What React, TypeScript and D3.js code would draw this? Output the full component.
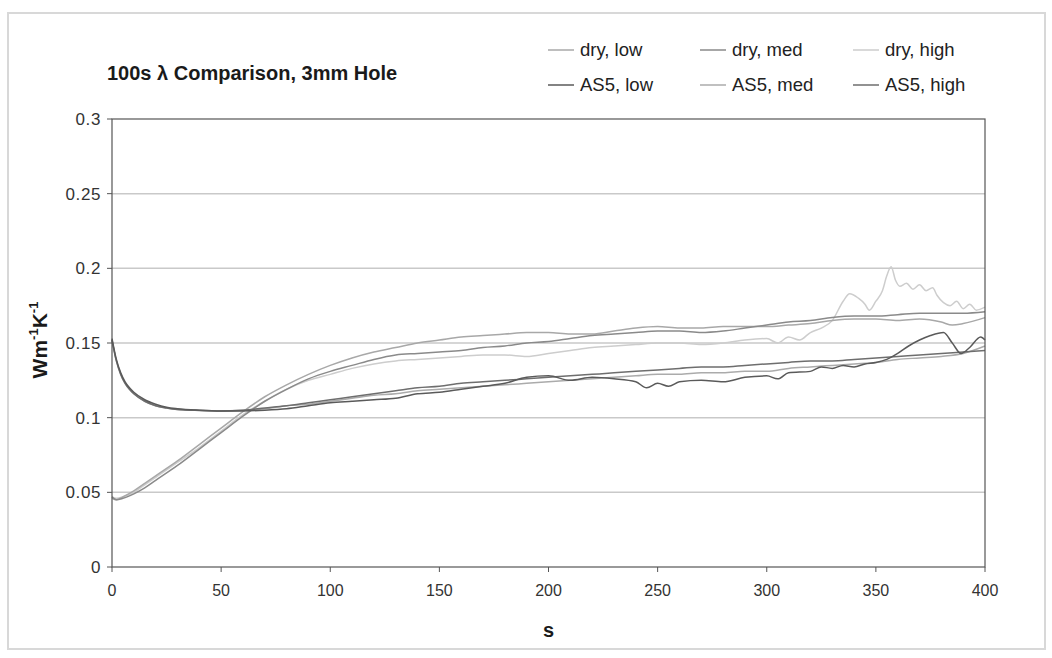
import React from 'react';
import * as d3 from 'd3';

// [s, W m^-1 K^-1]
type Pt = [number, number];

const xTicks = [0, 50, 100, 150, 200, 250, 300, 350, 400];
const yTicks = [0, 0.05, 0.1, 0.15, 0.2, 0.25, 0.3];
const yTickLabels = ['0', '0.05', '0.1', '0.15', '0.2', '0.25', '0.3'];

const seriesNames = ['dry, low', 'dry, med', 'dry, high', 'AS5, low', 'AS5, med', 'AS5, high'];
const seriesColors = ['#a8a8a8', '#8a8a8a', '#cdcdcd', '#5a5a5a', '#ababab', '#6e6e6e'];

const dryLow: Pt[] = [
  [0, 0.046], [2, 0.045], [5, 0.047], [10, 0.051], [15, 0.056], [20, 0.061], [30, 0.071], [40, 0.082],
  [50, 0.093], [60, 0.104], [70, 0.114], [80, 0.122], [90, 0.129], [100, 0.135], [110, 0.14], [120, 0.144],
  [130, 0.147], [140, 0.15], [150, 0.152], [160, 0.154], [170, 0.155], [180, 0.156], [190, 0.157], [200, 0.157],
  [210, 0.156], [220, 0.156], [230, 0.158], [240, 0.16], [250, 0.161], [260, 0.16], [270, 0.16], [280, 0.161],
  [290, 0.161], [300, 0.161], [310, 0.162], [320, 0.163], [330, 0.165], [340, 0.166], [350, 0.166], [360, 0.165],
  [370, 0.166], [380, 0.164], [385, 0.162], [390, 0.163], [400, 0.167],
];

const dryMed: Pt[] = [
  [0, 0.047], [2, 0.045], [5, 0.046], [10, 0.049], [15, 0.053], [20, 0.058], [30, 0.068], [40, 0.079],
  [50, 0.09], [60, 0.101], [70, 0.111], [80, 0.119], [90, 0.126], [100, 0.131], [110, 0.135], [120, 0.139],
  [130, 0.142], [140, 0.143], [150, 0.144], [160, 0.145], [170, 0.147], [180, 0.148], [190, 0.15], [200, 0.151],
  [210, 0.153], [220, 0.155], [230, 0.156], [240, 0.157], [250, 0.158], [260, 0.158], [270, 0.157], [280, 0.158],
  [290, 0.16], [300, 0.162], [310, 0.164], [320, 0.165], [330, 0.167], [340, 0.168], [350, 0.168], [360, 0.169],
  [370, 0.17], [380, 0.17], [390, 0.17], [400, 0.171],
];

const dryHigh: Pt[] = [
  [0, 0.047], [2, 0.046], [5, 0.047], [10, 0.05], [15, 0.055], [20, 0.06], [30, 0.07], [40, 0.08],
  [50, 0.091], [60, 0.102], [70, 0.111], [80, 0.119], [90, 0.125], [100, 0.129], [110, 0.133], [120, 0.136],
  [130, 0.138], [140, 0.139], [150, 0.14], [160, 0.141], [170, 0.142], [180, 0.142], [190, 0.141], [200, 0.143],
  [210, 0.145], [220, 0.147], [230, 0.148], [240, 0.149], [250, 0.15], [260, 0.15], [270, 0.149], [280, 0.15],
  [290, 0.152], [300, 0.153], [305, 0.15], [310, 0.154], [315, 0.152], [320, 0.157], [325, 0.16], [330, 0.165],
  [335, 0.178], [338, 0.183], [342, 0.18], [345, 0.176], [347, 0.172], [350, 0.178], [353, 0.185], [355, 0.195],
  [357, 0.201], [359, 0.192], [361, 0.188], [364, 0.19], [367, 0.186], [370, 0.189], [373, 0.185], [376, 0.187],
  [378, 0.182], [381, 0.177], [384, 0.175], [387, 0.178], [390, 0.173], [393, 0.176], [396, 0.172], [400, 0.174],
];

const as5Low: Pt[] = [
  [0, 0.153], [2, 0.139], [4, 0.13], [6, 0.124], [8, 0.12], [10, 0.117], [15, 0.112], [20, 0.109],
  [25, 0.107], [30, 0.106], [40, 0.105], [50, 0.1045], [60, 0.1045], [70, 0.105], [80, 0.106], [90, 0.108],
  [100, 0.11], [110, 0.111], [120, 0.112], [130, 0.113], [140, 0.116], [150, 0.117], [160, 0.119], [170, 0.121],
  [180, 0.123], [190, 0.127], [200, 0.128], [210, 0.125], [220, 0.127], [230, 0.126], [240, 0.124], [245, 0.12],
  [250, 0.123], [255, 0.121], [260, 0.124], [270, 0.125], [280, 0.124], [290, 0.127], [300, 0.128], [305, 0.126],
  [310, 0.13], [320, 0.131], [325, 0.134], [330, 0.133], [335, 0.135], [340, 0.134], [345, 0.136], [350, 0.137],
  [355, 0.139], [360, 0.143], [365, 0.148], [370, 0.152], [375, 0.155], [381, 0.157], [385, 0.15], [389, 0.143],
  [393, 0.147], [398, 0.154], [400, 0.152],
];

const as5Med: Pt[] = [
  [0, 0.152], [2, 0.138], [4, 0.129], [6, 0.123], [8, 0.119], [10, 0.116], [15, 0.111], [20, 0.108],
  [25, 0.1065], [30, 0.1055], [40, 0.105], [50, 0.1045], [60, 0.105], [70, 0.106], [80, 0.108], [90, 0.109],
  [100, 0.111], [110, 0.113], [120, 0.115], [130, 0.116], [140, 0.118], [150, 0.119], [160, 0.12], [170, 0.121],
  [180, 0.122], [190, 0.123], [200, 0.124], [210, 0.125], [220, 0.126], [230, 0.127], [240, 0.128], [250, 0.129],
  [260, 0.129], [270, 0.13], [280, 0.13], [290, 0.131], [300, 0.131], [310, 0.133], [320, 0.134], [330, 0.135],
  [340, 0.136], [350, 0.137], [360, 0.139], [370, 0.14], [380, 0.141], [390, 0.143], [400, 0.148],
];

const as5High: Pt[] = [
  [0, 0.152], [2, 0.138], [4, 0.129], [6, 0.123], [8, 0.119], [10, 0.116], [15, 0.111], [20, 0.108],
  [25, 0.1065], [30, 0.1055], [40, 0.1048], [50, 0.1045], [60, 0.105], [70, 0.1065], [80, 0.108], [90, 0.11],
  [100, 0.112], [110, 0.114], [120, 0.116], [130, 0.118], [140, 0.12], [150, 0.121], [160, 0.123], [170, 0.124],
  [180, 0.125], [190, 0.126], [200, 0.127], [210, 0.128], [220, 0.129], [230, 0.13], [240, 0.131], [250, 0.132],
  [260, 0.133], [270, 0.134], [280, 0.134], [290, 0.135], [300, 0.136], [310, 0.137], [320, 0.138], [330, 0.138],
  [340, 0.139], [350, 0.14], [360, 0.141], [370, 0.142], [380, 0.143], [390, 0.144], [400, 0.145],
];

const seriesData = [dryLow, dryMed, dryHigh, as5Low, as5Med, as5High];

const W = 1052;
const H = 658;
const plot = { left: 112, right: 985, top: 119, bottom: 567 };
const font = 'Arial, "Liberation Sans", sans-serif';

export default function App() {
  const x = d3.scaleLinear().domain([0, 400]).range([plot.left, plot.right]);
  const y = d3.scaleLinear().domain([0, 0.3]).range([plot.bottom, plot.top]);
  const line = d3
    .line<Pt>()
    .x((d) => x(d[0]))
    .y((d) => y(d[1]))
    .curve(d3.curveMonotoneX);

  // light ones first so the dark ones sit on top
  const order = [2, 4, 0, 1, 5, 3];
  const legendCols = [548, 700, 853];
  const legendRows = [50, 85];

  return (
    <svg
      width={W}
      height={H}
      style={{ position: 'absolute', left: 0, top: 0, background: '#fff' }}
      fontFamily={font}
    >
      <rect x={0} y={0} width={W} height={H} fill="#fff" />
      <rect x={8} y={13} width={1037} height={636} fill="none" stroke="#d8d8d8" strokeWidth={2} />

      <text x={107} y={80} fontSize={20} fontWeight="bold" fill="#1a1a1a">
        100s λ Comparison, 3mm Hole
      </text>

      {/* legend */}
      {seriesNames.map((name, i) => {
        const cx = legendCols[i % 3];
        const cy = legendRows[Math.floor(i / 3)];
        return (
          <g key={name}>
            <line x1={cx} x2={cx + 26} y1={cy} y2={cy} stroke={seriesColors[i]} strokeWidth={1.5} />
            <text x={cx + 32} y={cy + 6} fontSize={18.5} fill="#222">
              {name}
            </text>
          </g>
        );
      })}

      {/* gridlines */}
      {yTicks.slice(1, -1).map((t) => (
        <line key={t} x1={plot.left} x2={plot.right} y1={y(t)} y2={y(t)} stroke="#c9c9c9" strokeWidth={1.5} />
      ))}

      {/* series */}
      {order.map((i) => (
        <path
          key={seriesNames[i]}
          d={line(seriesData[i]) ?? ''}
          fill="none"
          stroke={seriesColors[i]}
          strokeWidth={1.5}
        />
      ))}

      {/* plot frame */}
      <rect
        x={plot.left}
        y={plot.top}
        width={plot.right - plot.left}
        height={plot.bottom - plot.top}
        fill="none"
        stroke="#555"
        strokeWidth={1.2}
      />

      {/* y tick labels */}
      {yTicks.map((t, i) => (
        <g key={t}>
          <line x1={plot.left - 5} x2={plot.left} y1={y(t)} y2={y(t)} stroke="#555" />
          <text x={plot.left - 11} y={y(t) + 6} fontSize={17} letterSpacing={0.6} textAnchor="end" fill="#333">
            {yTickLabels[i]}
          </text>
        </g>
      ))}

      {/* x tick labels */}
      {xTicks.map((t) => (
        <g key={t}>
          <line x1={x(t)} x2={x(t)} y1={plot.bottom} y2={plot.bottom + 5} stroke="#555" />
          <text x={x(t)} y={plot.bottom + 29} fontSize={16} textAnchor="middle" fill="#333">
            {t}
          </text>
        </g>
      ))}

      <text x={(plot.left + plot.right) / 2} y={637} fontSize={20} fontWeight="bold" textAnchor="middle" fill="#1a1a1a">
        s
      </text>

      <text
        transform={`translate(47, 340) rotate(-90)`}
        fontSize={21}
        fontWeight="bold"
        textAnchor="middle"
        fill="#1a1a1a"
      >
        Wm
        <tspan fontSize={13} dy={-9}>-1</tspan>
        <tspan dy={9}>K</tspan>
        <tspan fontSize={13} dy={-9}>-1</tspan>
      </text>
    </svg>
  );
}
